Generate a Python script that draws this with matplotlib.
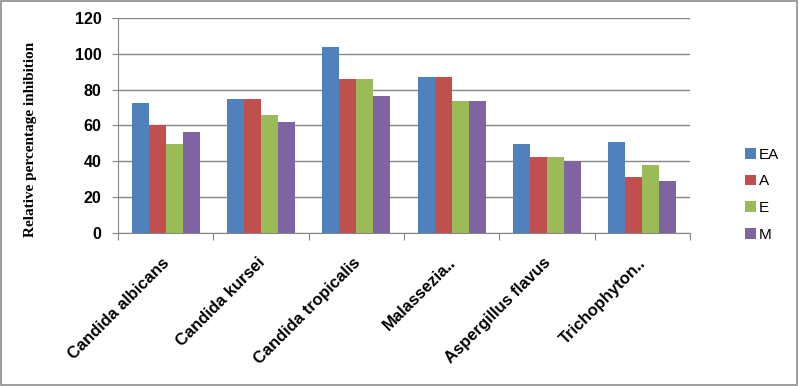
import numpy as np
from matplotlib import pyplot as plt
from matplotlib import transforms
from matplotlib.patches import Rectangle

categories = ['Candida albicans', 'Candida kursei', 'Candida tropicalis',
              'Malassezia..', 'Aspergillus flavus', 'Trichophyton..']
series_names = ['EA', 'A', 'E', 'M']
ea = [72.6, 74.6, 104.0, 86.9, 49.8, 51.0]
a = [60.1, 74.6, 86.1, 86.9, 42.6, 31.4]
e = [49.8, 66.0, 86.1, 73.4, 42.6, 38.1]
m = [56.5, 62.1, 76.6, 73.4, 40.2, 29.2]
yticks = [0, 20, 40, 60, 80, 100, 120]

colors = ['#4F81BD', '#C0504D', '#9BBB59', '#8064A2']
grid_col = '#868686'

fig = plt.figure(figsize=(7.99, 3.86), dpi=100)
ax = fig.add_axes([0.1477, 0.3964, 0.7159, 0.557])

x = np.arange(len(categories))
w = 0.178
for i, (vals, name) in enumerate(zip([ea, a, e, m], series_names)):
    ax.bar(x + (i - 1.5) * w, vals, width=w, color=colors[i], label=name, zorder=3)

ax.set_xlim(-0.5, len(categories) - 0.5)
ax.set_ylim(0, 120)
ax.set_yticks(yticks)
ax.set_yticklabels([str(t) for t in yticks], fontsize=11.5, fontweight='bold',
                   family='Liberation Sans')
ax.yaxis.grid(True, color=grid_col, linewidth=1, zorder=0)
ax.set_xticks(np.arange(len(categories) + 1) - 0.5)
ax.set_xticklabels([])
ax.set_xticks(x, minor=True)
ax.set_xticklabels(categories, minor=True, rotation=45, ha='right', va='top',
                   rotation_mode='anchor', fontsize=12, fontweight='bold',
                   family='Liberation Sans')
ax.tick_params(axis='x', which='minor', length=0, pad=16)
ax.tick_params(axis='x', which='major', length=5, color=grid_col)
ax.tick_params(axis='y', length=4, color=grid_col, pad=8)
shift = transforms.ScaledTranslation(-4 / 100, 0, fig.dpi_scale_trans)
for lbl in ax.get_xticklabels(minor=True):
    lbl.set_transform(lbl.get_transform() + shift)
for s in ['top', 'right']:
    ax.spines[s].set_visible(False)
for s in ['left', 'bottom']:
    ax.spines[s].set_color(grid_col)

ax.set_ylabel('Relative percentage inhibition', family='Liberation Serif',
              fontweight='bold', fontsize=11)
ax.yaxis.set_label_coords(-0.142, 0.437)

ax.legend(loc='center left', bbox_to_anchor=(0.915, 0.496), bbox_transform=fig.transFigure,
          frameon=False, handlelength=0.7, handleheight=0.7, handletextpad=0.2,
          labelspacing=0.83, prop={'family': 'Liberation Sans', 'size': 11})

fig.patches.append(Rectangle((0.001, 0.002), 0.997, 0.995, transform=fig.transFigure,
                             fill=False, edgecolor='#8c8c8c', linewidth=1.2))

fig.savefig('out.png', dpi=100)
